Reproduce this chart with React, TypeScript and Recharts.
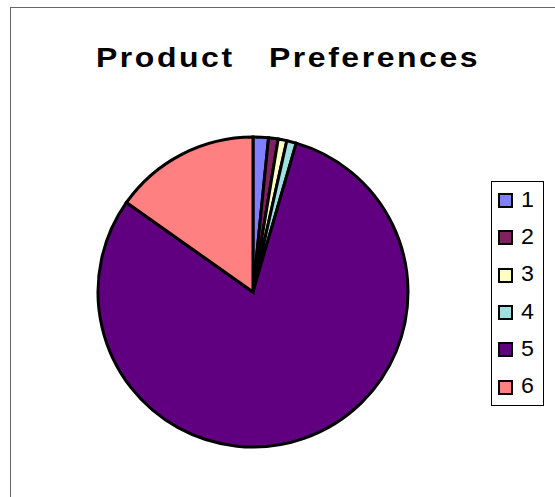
import { PieChart, Pie, Cell, Legend } from 'recharts'

const labels = ['1', '2', '3', '4', '5', '6']
const values = [1.6, 1.0, 0.9, 1.0, 80.3, 15.2]
const colors = ['#8080FF', '#802060', '#FFFFC0', '#A0E0E0', '#600080', '#FF8080']

const data = labels.map((name, i) => ({ name, value: values[i] }))

function LegendBox() {
  return (
    <div
      style={{
        width: 53,
        height: 225,
        border: '1px solid #000',
        background: '#fff',
        boxSizing: 'border-box',
      }}
    >
      {labels.map((l, i) => (
        <div key={l} style={{ display: 'flex', alignItems: 'center', height: 37.3, paddingLeft: 6 }}>
          <div
            style={{
              width: 15,
              height: 15,
              flex: 'none',
              background: colors[i],
              border: '2px solid #000',
              boxSizing: 'border-box',
            }}
          />
          <span
            style={{
              marginLeft: 8,
              fontSize: 21.5,
              lineHeight: 1,
              fontFamily: 'Liberation Sans, Arial, sans-serif',
              color: '#000',
              display: 'inline-block',
              transform: 'scaleX(1.08)',
              transformOrigin: 'left center',
            }}
          >
            {l}
          </span>
        </div>
      ))}
    </div>
  )
}

export default function App() {
  return (
    <div style={{ position: 'absolute', left: 0, top: 0, width: 555, height: 497, background: '#fff', overflow: 'hidden' }}>
      <div
        style={{
          position: 'absolute',
          left: 10,
          top: 7,
          width: 600,
          height: 600,
          borderLeft: '1.5px solid #666',
          borderTop: '1.5px solid #666',
        }}
      />
      <div
        style={{
          position: 'absolute',
          left: 96,
          top: 43,
          whiteSpace: 'pre',
          fontFamily: 'Liberation Sans, Arial, sans-serif',
          fontWeight: 'bold',
          fontSize: 28.5,
          lineHeight: 1,
          letterSpacing: 2.3,
          color: '#000',
          transform: 'scaleX(1.12)',
          transformOrigin: 'left top',
        }}
      >
        {'Product   Preferences'}
      </div>
      <div style={{ position: 'absolute', left: 0, top: 0 }}>
        <PieChart width={555} height={497} margin={{ top: 0, right: 0, bottom: 0, left: 0 }}>
          <Pie
            data={data}
            dataKey="value"
            nameKey="name"
            cx={253}
            cy={292}
            outerRadius={155}
            startAngle={90}
            endAngle={-270}
            stroke="#000"
            strokeWidth={3}
            isAnimationActive={false}
          >
            {data.map((d, i) => (
              <Cell key={d.name} fill={colors[i]} />
            ))}
          </Pie>
          <Legend
            layout="vertical"
            content={() => <LegendBox />}
            wrapperStyle={{ position: 'absolute', left: 491, top: 181, width: 53 }}
          />
        </PieChart>
      </div>
    </div>
  )
}
